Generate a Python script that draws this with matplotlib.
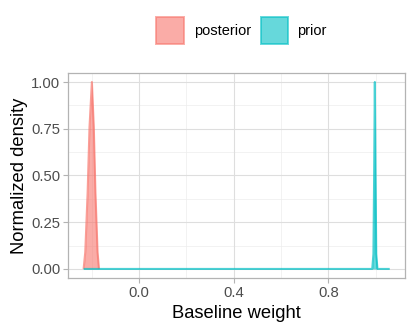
#Gráfica de densidad normalizada: posterior vs prior
import matplotlib
matplotlib.use("Agg")
import matplotlib.pyplot as plt
from matplotlib.patches import Rectangle
import numpy as np

#Datos
post_x = [-0.235, -0.228, -0.218, -0.210, -0.200, -0.192, -0.185, -0.176, -0.170]
post_y = [0.0, 0.09, 0.41, 0.76, 1.0, 0.76, 0.41, 0.09, 0.0]
prior_x = [-0.235, 0.986, 0.991, 0.994, 0.997, 1.000, 1.003, 1.008, 1.060]
prior_y = [0.0, 0.0, 0.08, 0.5, 1.0, 0.5, 0.08, 0.0, 0.0]
grupos = ["posterior", "prior"]
colores = ["#F8766D", "#00BFC4"]
xticks = [0.0, 0.4, 0.8]
xminor = [-0.2, 0.2, 0.6, 1.0]
yticks = [0.0, 0.25, 0.5, 0.75, 1.0]
yminor = [0.125, 0.375, 0.625, 0.875]

plt.rcParams['font.family'] = ['Liberation Sans', 'DejaVu Sans']

fig = plt.figure(figsize=(4.15, 3.33), dpi=100)
ax = fig.add_axes([0.1646, 0.1643, 0.976 - 0.1646, 0.7817 - 0.1643])

#Curvas de densidad
for xs, ys, c in [(post_x, post_y, colores[0]), (prior_x, prior_y, colores[1])]:
	ax.fill_between(xs, ys, 0, color=c, alpha=0.6, lw=0)
	ax.plot(xs, ys, color=c, alpha=0.7, lw=1.5, solid_capstyle='butt')

#Limites con expansion de 5%
xmin = min(post_x + prior_x)
xmax = max(post_x + prior_x)
dx = (xmax - xmin) * 0.05
ax.set_xlim(xmin - dx, xmax + dx)
ax.set_ylim(-0.05, 1.05)

#Rejilla estilo theme_light
for v in xminor:
	ax.axvline(v, color="#EDEDED", lw=0.5, zorder=0)
for v in yminor:
	ax.axhline(v, color="#EDEDED", lw=0.5, zorder=0)
for v in xticks:
	ax.axvline(v, color="#DEDEDE", lw=0.8, zorder=0)
for v in yticks:
	ax.axhline(v, color="#DEDEDE", lw=0.8, zorder=0)

ax.set_xticks(xticks)
ax.set_xticklabels(["0.0", "0.4", "0.8"])
ax.set_yticks(yticks)
ax.set_yticklabels(["0.00", "0.25", "0.50", "0.75", "1.00"])
ax.tick_params(axis='both', colors="#B3B3B3", labelcolor="#4D4D4D",
			   labelsize=10.7, length=3.8, width=0.8, pad=2)
for s in ax.spines.values():
	s.set_color("#B3B3B3")
	s.set_linewidth(0.9)

ax.set_xlabel("Baseline weight", fontsize=13.2, labelpad=3)
ax.set_ylabel("Normalized density", fontsize=13.2, labelpad=2)

#Leyenda arriba
W = 415.0
H = 333.0
claves = [(156, 17.3), (260.7, 17.3)]
textos_x = [194, 297.3]
for i in range(2):
	kx, ky = claves[i]
	r = Rectangle((kx / W, 1 - (ky + 27) / H), 27.5 / W, 27 / H,
				  transform=fig.transFigure, facecolor=colores[i], alpha=0.6,
				  edgecolor=colores[i], lw=1.4)
	fig.add_artist(r)
	fig.text(textos_x[i] / W, 1 - (ky + 13.5) / H, grupos[i], fontsize=10.5,
			 va='center', ha='left', color="black")

fig.savefig("out.png", dpi=100)
